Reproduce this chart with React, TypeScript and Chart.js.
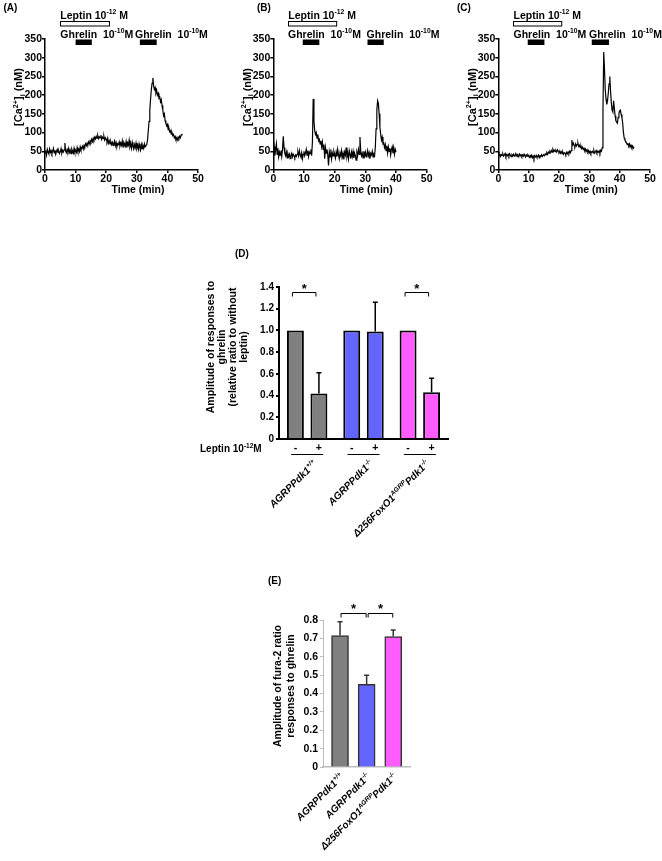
import React, { useEffect, useRef } from 'react';
import { Chart, registerables } from 'chart.js';

Chart.register(...registerables);

const FONT = '"Liberation Sans", Arial, Helvetica, sans-serif';

// ---------------- DATA ----------------
// Calcium traces, sampled every TRACE_STEP_MIN minutes from t = 0
const TRACE_STEP_MIN = 0.25;

const TRACE_A = [
  45, 52, 40, 55, 48, 43, 56, 47, 52, 44, 50, 58, 46, 53, 42, 50,
  55, 47, 51, 44, 49, 57, 45, 52, 48, 54, 72, 50, 46, 55, 49, 58,
  47, 53, 44, 56, 50, 45, 58, 48, 52, 47, 60, 50, 55, 49, 62, 54,
  58, 63, 56, 66, 62, 70, 65, 72, 68, 75, 70, 78, 74, 82, 76, 85,
  80, 88, 83, 90, 85, 92, 84, 89, 86, 93, 82, 88, 84, 90, 80, 86,
  82, 76, 85, 72, 78, 70, 76, 68, 74, 66, 72, 78, 65, 73, 62, 70,
  68, 75, 64, 72, 66, 78, 62, 74, 70, 64, 76, 60, 72, 66, 80, 62,
  70, 58, 74, 63, 56, 68, 60, 72, 58, 66, 55, 70, 60, 54, 68, 57,
  65, 58, 70, 62, 62, 68, 80, 105, 130, 160, 190, 215, 232, 246, 225, 215,
  220, 205, 212, 200, 205, 192, 195, 182, 188, 172, 160, 145, 150, 132, 125, 118,
  122, 108, 112, 102, 105, 96, 100, 92, 95, 86, 90, 82, 85, 80, 88, 84,
  90, 86, 94, 97,
];

const TRACE_B = [
  45, 62, 38, 55, 70, 42, 58, 35, 48, 40, 52, 36, 55, 90, 60, 45,
  38, 48, 32, 44, 36, 42, 30, 40, 45, 35, 42, 38, 33, 40, 36, 42,
  48, 38, 52, 40, 35, 46, 30, 42, 50, 38, 45, 55, 40, 52, 36, 48,
  44, 55, 38, 75, 190, 130, 105, 95, 100, 85, 95, 78, 82, 70, 78, 62,
  75, 55, 68, 30, 60, 45, 55, 40, 12, 48, 35, 55, 30, 45, 38, 50,
  42, 32, 48, 36, 55, 40, 30, 46, 38, 52, 35, 44, 28, 48, 40, 60,
  35, 45, 30, 52, 42, 30, 48, 36, 50, 32, 45, 38, 26, 48, 40, 55,
  42, 88, 50, 38, 45, 32, 50, 38, 48, 35, 42, 52, 38, 46, 30, 44,
  40, 50, 35, 42, 38, 60, 110, 160, 185, 178, 150, 115, 95, 80, 88, 70,
  72, 60, 68, 52, 65, 45, 62, 50, 58, 40, 55, 62, 45, 60, 42, 55,
  48,
];

const TRACE_C = [
  40, 38, 42, 36, 41, 39, 43, 37, 40, 44, 36, 41, 38, 42, 37, 43,
  39, 36, 41, 38, 42, 37, 40, 44, 38, 41, 35, 40, 43, 38, 41, 36,
  40, 37, 42, 38, 35, 40, 37, 41, 38, 34, 39, 36, 40, 33, 37, 30,
  38, 35, 39, 34, 36, 40, 33, 38, 37, 41, 36, 39, 40, 38, 43, 41,
  46, 42, 48, 45, 50, 47, 52, 48, 55, 50, 53, 49, 52, 48, 54, 50,
  47, 51, 45, 49, 44, 48, 42, 46, 45, 41, 47, 43, 48, 44, 50, 46,
  52, 80, 68, 72, 65, 62, 70, 64, 68, 72, 63, 66, 60, 64, 57, 61,
  55, 58, 52, 56, 50, 54, 48, 52, 46, 50, 44, 48, 50, 46, 52, 45,
  48, 52, 46, 50, 47, 51, 45, 53, 50, 60, 160, 315, 270, 215, 190, 175,
  185, 205, 230, 250, 210, 180, 160, 155, 185, 165, 145, 132, 128, 125, 140, 150,
  158, 160, 148, 140, 125, 100, 85, 80, 76, 72, 68, 70, 65, 70, 62, 66,
  60, 64, 58, 62,
];

const TIME_TICK_STEP = 10;
const TIME_MAX = 50;
const CA_TICK_STEP = 50;
const CA_MAX = 350;

// treatment windows (minutes)
const LEPTIN_A = [5, 21];
const LEPTIN_B = [4.9, 20.6];
const LEPTIN_C = [5, 20.9];
const GHRELIN_A = [[10, 15.3], [31, 36.5]];
const GHRELIN_B = [[9.6, 15], [30.7, 36]];
const GHRELIN_C = [[9.7, 15.2], [30.8, 36.5]];
const GHRELIN_LABEL_AT_A = [5, 29.4];
const GHRELIN_LABEL_AT_B = [4.8, 30.4];
const GHRELIN_LABEL_AT_C = [5, 29.9];

// Panel D: amplitude relative to without leptin
const D_GROUPS = ['AGRPPdk1+/+', 'AGRPPdk1-/-', 'Δ256FoxO1AGRPPdk1-/-'];
const D_WITHOUT_LEPTIN = [1.0, 1.0, 1.0];
const D_WITH_LEPTIN = [0.42, 0.99, 0.43];
const D_WITH_LEPTIN_SEM = [0.19, 0.27, 0.13];
const D_SIGNIFICANT_GROUPS = [0, 2];
const D_SIG_LEVEL = 1.35;
const D_Y_MAX = 1.4;
const D_Y_STEP = 0.2;

// Panel E: amplitude of fura-2 ratio
const E_VALUES = [0.715, 0.45, 0.71];
const E_SEM = [0.075, 0.05, 0.035];
const E_SIG_PAIRS = [[0, 1], [1, 2]];
const E_SIG_LEVEL = 0.84;
const E_Y_MAX = 0.8;
const E_Y_STEP = 0.1;

const GROUP_COLORS = ['#808080', '#6464ff', '#ff5cff'];

// ---------------- text helpers ----------------
type Seg = { t: string; s?: 'sup' | 'sub' };

const GROUP_LABEL_SEGS: Seg[][] = [
  [{ t: 'AGRPPdk1' }, { t: '+/+', s: 'sup' }],
  [{ t: 'AGRPPdk1' }, { t: '-/-', s: 'sup' }],
  [{ t: 'Δ256FoxO1' }, { t: 'AGRP', s: 'sup' }, { t: 'Pdk1' }, { t: '-/-', s: 'sup' }],
];
const LEPTIN_SEGS: Seg[] = [{ t: 'Leptin 10' }, { t: '-12', s: 'sup' }, { t: ' M' }];
const LEPTIN_D_SEGS: Seg[] = [{ t: 'Leptin 10' }, { t: '-12', s: 'sup' }, { t: 'M' }];
const GHRELIN_SEGS: Seg[] = [{ t: 'Ghrelin  10' }, { t: '-10', s: 'sup' }, { t: 'M' }];
const CA_TITLE_SEGS: Seg[] = [{ t: '[Ca' }, { t: '2+', s: 'sup' }, { t: ']' }, { t: 'i', s: 'sub' }, { t: ' (nM)' }];

function segFont(size: number, g: Seg, style: string) {
  const sz = g.s ? size * 0.65 : size;
  return `${style} ${sz}px ${FONT}`;
}
function richWidth(ctx: CanvasRenderingContext2D, segs: Seg[], size: number, style: string) {
  let w = 0;
  for (const g of segs) {
    ctx.font = segFont(size, g, style);
    w += ctx.measureText(g.t).width;
  }
  return w;
}
function drawRich(
  ctx: CanvasRenderingContext2D,
  segs: Seg[],
  x: number,
  y: number,
  size: number,
  align: 'left' | 'center' | 'right',
  style = 'bold'
) {
  const w = richWidth(ctx, segs, size, style);
  let cx = align === 'left' ? x : align === 'center' ? x - w / 2 : x - w;
  ctx.textAlign = 'left';
  ctx.textBaseline = 'alphabetic';
  for (const g of segs) {
    ctx.font = segFont(size, g, style);
    const dy = g.s === 'sup' ? -size * 0.4 : g.s === 'sub' ? size * 0.22 : 0;
    ctx.fillText(g.t, cx, y + dy);
    cx += ctx.measureText(g.t).width;
  }
}
function drawVertical(ctx: CanvasRenderingContext2D, segs: Seg[], cx: number, cy: number, size: number) {
  ctx.save();
  ctx.translate(cx, cy);
  ctx.rotate(-Math.PI / 2);
  drawRich(ctx, segs, 0, size * 0.36, size, 'center');
  ctx.restore();
}
function drawDiag(ctx: CanvasRenderingContext2D, segs: Seg[], ax: number, ay: number, size: number) {
  ctx.save();
  ctx.translate(ax, ay);
  ctx.rotate(-Math.PI / 4);
  drawRich(ctx, segs, 0, size * 0.75, size, 'right', 'italic bold');
  ctx.restore();
}
function drawStar(ctx: CanvasRenderingContext2D, x: number, cy: number) {
  ctx.font = `bold 13px ${FONT}`;
  ctx.textAlign = 'center';
  ctx.textBaseline = 'alphabetic';
  ctx.fillText('*', x, cy + 7.5);
}

// ---------------- trace panels ----------------
type TraceCfg = {
  letter: string;
  letterX: number;
  values: number[];
  leptin: number[];
  ghrelin: number[][];
  ghrelinLabels: number[];
  left: number;
  right: number;
  width: number;
};

function TracePanel({ cfg, pageX }: { cfg: TraceCfg; pageX: number }) {
  const ref = useRef<HTMLCanvasElement | null>(null);
  useEffect(() => {
    if (!ref.current) return;
    const H = 200;
    const top = 39;
    const bottom = 170;
    const overlay = {
      id: 'traceOverlay',
      afterDraw(chart: any) {
        const { ctx, chartArea } = chart;
        const x = chart.scales.x;
        ctx.save();
        ctx.fillStyle = '#000';
        ctx.strokeStyle = '#000';
        drawRich(ctx, [{ t: cfg.letter }], cfg.letterX, 11, 10, 'left');
        const l0 = x.getPixelForValue(cfg.leptin[0]);
        const l1 = x.getPixelForValue(cfg.leptin[1]);
        drawRich(ctx, LEPTIN_SEGS, l0, 18.5, 10.5, 'left');
        ctx.lineWidth = 1;
        ctx.strokeRect(Math.round(l0) + 0.5, 21.5, l1 - l0, 4.5);
        for (const gx of cfg.ghrelinLabels) {
          drawRich(ctx, GHRELIN_SEGS, x.getPixelForValue(gx), 37.5, 10.5, 'left');
        }
        for (const [a, b] of cfg.ghrelin) {
          const pa = x.getPixelForValue(a);
          const pb = x.getPixelForValue(b);
          ctx.fillRect(pa, 39.5, pb - pa, 5.5);
        }
        drawVertical(ctx, CA_TITLE_SEGS, chartArea.left - 26.5, 97, 11);
        drawRich(ctx, [{ t: 'Time (min)' }], chartArea.left + 93, 192.5, 10.5, 'center');
        ctx.restore();
      },
    };
    const chart = new Chart(ref.current, {
      type: 'line',
      data: {
        datasets: [
          {
            data: cfg.values.map((v, i) => ({ x: i * TRACE_STEP_MIN, y: v })),
            borderColor: '#000',
            borderWidth: 1.2,
            pointRadius: 0,
            tension: 0,
            fill: false,
          },
        ],
      },
      options: {
        responsive: false,
        animation: false,
        layout: { padding: { top, right: cfg.width - cfg.right, left: 0, bottom: 0 } },
        plugins: { legend: { display: false }, tooltip: { enabled: false } },
        scales: {
          x: {
            type: 'linear',
            min: 0,
            max: TIME_MAX,
            ticks: {
              stepSize: TIME_TICK_STEP,
              color: '#000',
              font: { family: FONT, size: 10.5, weight: 'bold' },
              padding: 0,
              maxRotation: 0,
            },
            grid: { drawOnChartArea: false, drawTicks: true, tickLength: 3, color: '#000', lineWidth: 1.5 },
            border: { display: true, color: '#000', width: 1.5 },
            afterFit: (s: any) => {
              s.height = H - bottom;
            },
          },
          y: {
            min: 0,
            max: CA_MAX,
            ticks: {
              stepSize: CA_TICK_STEP,
              color: '#000',
              font: { family: FONT, size: 10.5, weight: 'bold' },
              padding: 0,
            },
            grid: { drawOnChartArea: false, drawTicks: true, tickLength: 3, color: '#000', lineWidth: 1.5 },
            border: { display: true, color: '#000', width: 1.5 },
            afterFit: (s: any) => {
              s.width = cfg.left;
            },
          },
        },
      } as any,
      plugins: [overlay],
    });
    return () => chart.destroy();
  }, [cfg]);
  return (
    <canvas
      ref={ref}
      width={cfg.width}
      height={200}
      style={{ position: 'absolute', left: pageX, top: 0, width: cfg.width, height: 200 }}
    />
  );
}

const CFG_A: TraceCfg = {
  letter: '(A)', letterX: 3.5, values: TRACE_A, leptin: LEPTIN_A, ghrelin: GHRELIN_A,
  ghrelinLabels: GHRELIN_LABEL_AT_A, left: 45, right: 198, width: 220,
};
const CFG_B: TraceCfg = {
  letter: '(B)', letterX: 37, values: TRACE_B, leptin: LEPTIN_B, ghrelin: GHRELIN_B,
  ghrelinLabels: GHRELIN_LABEL_AT_B, left: 53.3, right: 206.7, width: 220,
};
const CFG_C: TraceCfg = {
  letter: '(C)', letterX: 17, values: TRACE_C, leptin: LEPTIN_C, ghrelin: GHRELIN_C,
  ghrelinLabels: GHRELIN_LABEL_AT_C, left: 58.3, right: 210, width: 222,
};

// ---------------- panel D ----------------
function PanelD() {
  const ref = useRef<HTMLCanvasElement | null>(null);
  useEffect(() => {
    if (!ref.current) return;
    const W = 280;
    const H = 320;
    const overlay = {
      id: 'dOverlay',
      afterDraw(chart: any) {
        const { ctx, chartArea } = chart;
        const y = chart.scales.y;
        const m0 = chart.getDatasetMeta(0).data;
        const m1 = chart.getDatasetMeta(1).data;
        ctx.save();
        ctx.fillStyle = '#000';
        ctx.strokeStyle = '#000';
        // error bars
        ctx.lineWidth = 1.5;
        m1.forEach((bar: any, i: number) => {
          const yt = y.getPixelForValue(D_WITH_LEPTIN[i] + D_WITH_LEPTIN_SEM[i]);
          ctx.beginPath();
          ctx.moveTo(bar.x, bar.y);
          ctx.lineTo(bar.x, yt);
          ctx.moveTo(bar.x - 2.5, yt);
          ctx.lineTo(bar.x + 2.5, yt);
          ctx.stroke();
        });
        // significance brackets
        ctx.lineWidth = 1;
        for (const g of D_SIGNIFICANT_GROUPS) {
          const x0 = m0[g].x - 3;
          const x1 = m1[g].x - 3;
          const yb = Math.round(y.getPixelForValue(D_SIG_LEVEL)) + 0.5;
          ctx.beginPath();
          ctx.moveTo(x0, yb + 4);
          ctx.lineTo(x0, yb);
          ctx.lineTo(x1, yb);
          ctx.lineTo(x1, yb + 4);
          ctx.stroke();
          drawStar(ctx, (x0 + x1) / 2, yb - 7);
        }
        // panel letter
        drawRich(ctx, [{ t: '(D)' }], 45, 17, 10, 'left');
        // y title (4 lines)
        const lines = ['Amplitude of responses to', 'ghrelin', '(relative ratio to without', 'leptin)'];
        lines.forEach((t, i) => {
          drawVertical(ctx, [{ t }], chartArea.left - 69 + i * 11, chartArea.top + 60, 10.5);
        });
        // leptin row
        const b = chartArea.bottom;
        drawRich(ctx, LEPTIN_D_SEGS, 10, b + 12.5, 10, 'left');
        for (let g = 0; g < D_GROUPS.length; g++) {
          drawRich(ctx, [{ t: '-' }], m0[g].x, b + 12, 10.5, 'center');
          drawRich(ctx, [{ t: '+' }], m1[g].x, b + 12, 10.5, 'center');
          const cx = (m0[g].x + m1[g].x) / 2;
          ctx.lineWidth = 1;
          ctx.beginPath();
          ctx.moveTo(cx - 16, b + 15.5);
          ctx.lineTo(cx + 16, b + 15.5);
          ctx.stroke();
          drawDiag(ctx, GROUP_LABEL_SEGS[g], cx + 5, b + 20, 10);
        }
        ctx.restore();
      },
    };
    const chart = new Chart(ref.current, {
      type: 'bar',
      data: {
        labels: D_GROUPS,
        datasets: [
          {
            label: 'without leptin',
            data: D_WITHOUT_LEPTIN,
            backgroundColor: GROUP_COLORS,
            borderColor: '#000',
            borderWidth: 2,
            categoryPercentage: 0.835,
            barPercentage: 0.72,
          },
          {
            label: 'with leptin',
            data: D_WITH_LEPTIN,
            backgroundColor: GROUP_COLORS,
            borderColor: '#000',
            borderWidth: 2,
            categoryPercentage: 0.835,
            barPercentage: 0.72,
          },
        ],
      },
      options: {
        responsive: false,
        animation: false,
        layout: { padding: { top: 47, right: W - 258, left: 0, bottom: 0 } },
        plugins: { legend: { display: false }, tooltip: { enabled: false } },
        scales: {
          x: {
            ticks: { display: false },
            grid: { display: false },
            border: { display: true, color: '#000', width: 2 },
            afterFit: (s: any) => {
              s.height = H - 199;
            },
          },
          y: {
            min: 0,
            max: D_Y_MAX,
            ticks: {
              stepSize: D_Y_STEP,
              color: '#000',
              font: { family: FONT, size: 10, weight: 'bold' },
              padding: 2,
              callback: (v: any) => (Number(v) === 0 ? '0' : Number(v).toFixed(1)),
            },
            grid: { drawOnChartArea: false, drawTicks: true, tickLength: 3, color: '#000', lineWidth: 2 },
            border: { display: true, color: '#000', width: 2 },
            afterFit: (s: any) => {
              s.width = 89;
            },
          },
        },
      } as any,
      plugins: [overlay],
    });
    return () => chart.destroy();
  }, []);
  return (
    <canvas
      ref={ref}
      width={280}
      height={320}
      style={{ position: 'absolute', left: 190, top: 240, width: 280, height: 320 }}
    />
  );
}

// ---------------- panel E ----------------
function PanelE() {
  const ref = useRef<HTMLCanvasElement | null>(null);
  useEffect(() => {
    if (!ref.current) return;
    const W = 170;
    const H = 291;
    const overlay = {
      id: 'eOverlay',
      afterDraw(chart: any) {
        const { ctx, chartArea } = chart;
        const y = chart.scales.y;
        const m = chart.getDatasetMeta(0).data;
        ctx.save();
        ctx.fillStyle = '#000';
        ctx.strokeStyle = '#333';
        ctx.lineWidth = 1.5;
        m.forEach((bar: any, i: number) => {
          const yt = y.getPixelForValue(E_VALUES[i] + E_SEM[i]);
          ctx.beginPath();
          ctx.moveTo(bar.x, bar.y);
          ctx.lineTo(bar.x, yt);
          ctx.moveTo(bar.x - 2.5, yt);
          ctx.lineTo(bar.x + 2.5, yt);
          ctx.stroke();
        });
        ctx.strokeStyle = '#000';
        ctx.lineWidth = 1;
        for (const [a, b] of E_SIG_PAIRS) {
          const x0 = m[a].x + (a === 0 ? 1 : 1.5);
          const x1 = m[b].x - 0.5;
          const yb = Math.round(y.getPixelForValue(E_SIG_LEVEL)) + 0.5;
          ctx.beginPath();
          ctx.moveTo(x0, yb + 4);
          ctx.lineTo(x0, yb);
          ctx.lineTo(x1, yb);
          ctx.lineTo(x1, yb + 4);
          ctx.stroke();
          drawStar(ctx, (x0 + x1) / 2, yb - 8);
        }
        drawRich(ctx, [{ t: '(E)' }], 13, 14, 10, 'left');
        drawVertical(ctx, [{ t: 'Amplitude of fura-2 ratio' }], chartArea.left - 45.5, chartArea.top + 66, 10.5);
        drawVertical(ctx, [{ t: 'responses to ghrelin' }], chartArea.left - 32.5, chartArea.top + 66, 10.5);
        m.forEach((bar: any, i: number) => {
          drawDiag(ctx, GROUP_LABEL_SEGS[i], bar.x - 1, chartArea.bottom + 5, 10);
        });
        ctx.restore();
      },
    };
    const chart = new Chart(ref.current, {
      type: 'bar',
      data: {
        datasets: [
          {
            data: E_VALUES.map((v, i) => ({ x: i, y: v })),
            backgroundColor: GROUP_COLORS,
            borderColor: '#333',
            borderWidth: 1.5,
            barThickness: 17,
          },
        ],
      },
      options: {
        responsive: false,
        animation: false,
        layout: { padding: { top: 50, right: W - 155, left: 0, bottom: 0 } },
        plugins: { legend: { display: false }, tooltip: { enabled: false } },
        scales: {
          x: {
            type: 'linear',
            min: -0.64,
            max: 2.63,
            offset: false,
            ticks: { display: false },
            grid: { display: false },
            border: { display: true, color: '#bdbdbd', width: 1.5 },
            afterFit: (s: any) => {
              s.height = H - 197;
            },
          },
          y: {
            min: 0,
            max: E_Y_MAX,
            ticks: {
              stepSize: E_Y_STEP,
              color: '#000',
              font: { family: FONT, size: 10.5, weight: 'bold' },
              padding: 2,
              callback: (v: any) => (Number(v) === 0 ? '0' : Number(v).toFixed(1)),
            },
            grid: { drawOnChartArea: false, drawTicks: true, tickLength: 3, color: '#bdbdbd', lineWidth: 1 },
            border: { display: true, color: '#bdbdbd', width: 1 },
            afterFit: (s: any) => {
              s.width = 68;
            },
          },
        },
      } as any,
      plugins: [overlay],
    });
    return () => chart.destroy();
  }, []);
  return (
    <canvas
      ref={ref}
      width={170}
      height={291}
      style={{ position: 'absolute', left: 255, top: 570, width: 170, height: 291 }}
    />
  );
}

export default function App() {
  return (
    <div
      style={{
        position: 'absolute',
        left: 0,
        top: 0,
        width: 662,
        height: 861,
        background: '#fff',
        overflow: 'hidden',
      }}
    >
      <TracePanel cfg={CFG_A} pageX={0} />
      <TracePanel cfg={CFG_B} pageX={220} />
      <TracePanel cfg={CFG_C} pageX={440} />
      <PanelD />
      <PanelE />
    </div>
  );
}
